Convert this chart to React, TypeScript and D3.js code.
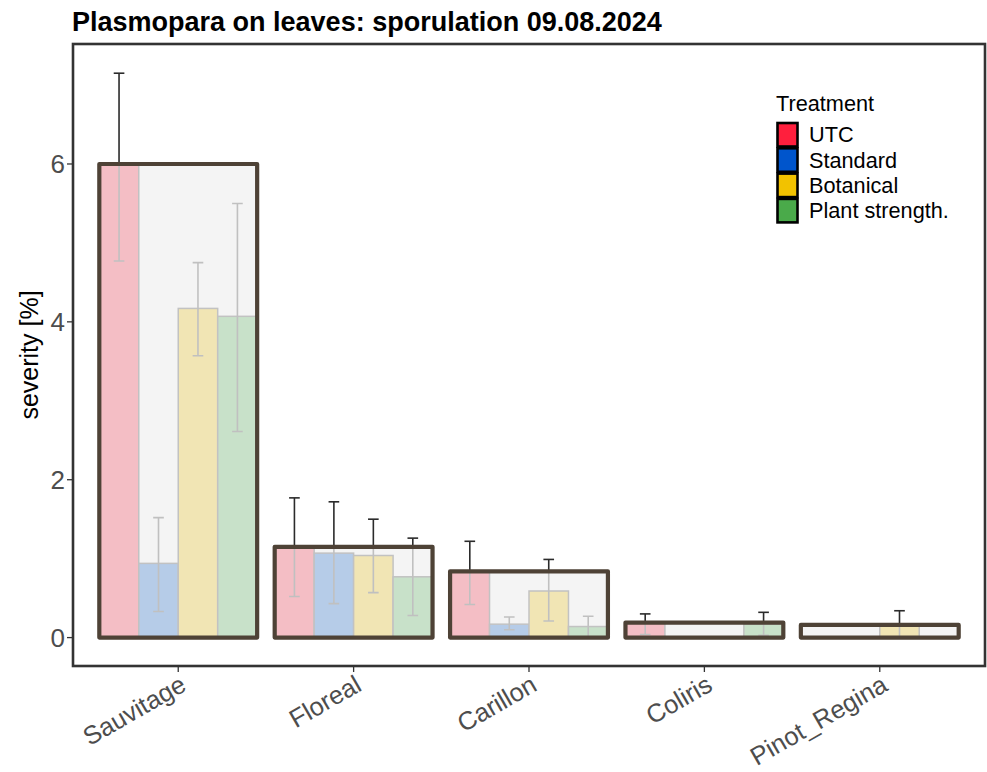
import React from "react";
import * as d3 from "d3";

const varieties = ["Sauvitage", "Floreal", "Carillon", "Coliris", "Pinot_Regina"];
const treatments = ["UTC", "Standard", "Botanical", "Plant strength."];

// means per variety, in treatment order
const meanUTC = [6.0, 1.15, 0.84, 0.19, 0];
const meanStandard = [0.94, 1.07, 0.17, 0, 0];
const meanBotanical = [4.17, 1.04, 0.59, 0, 0.16];
const meanPlant = [4.07, 0.77, 0.14, 0.17, 0];

const lowUTC = [4.77, 0.52, 0.42, 0.04, 0];
const highUTC = [7.15, 1.77, 1.22, 0.3, 0];
const lowStandard = [0.33, 0.43, 0.1, 0, 0];
const highStandard = [1.52, 1.72, 0.26, 0, 0];
const lowBotanical = [3.57, 0.57, 0.21, 0, 0.0];
const highBotanical = [4.75, 1.5, 0.99, 0, 0.34];
const lowPlant = [2.61, 0.28, 0.0, 0.03, 0];
const highPlant = [5.5, 1.26, 0.27, 0.32, 0];

const yTicks = [0, 2, 4, 6];

const paleColors = ["#f4bec5", "#b6cce8", "#f1e5b4", "#c8e1c9"];
const keyColors = ["#ff1f3d", "#0055cc", "#f2c200", "#4aaa4a"];

const W = 987;
const H = 772;
const panel = { left: 73, right: 985, top: 44, bottom: 666 };

export default function App() {
  const x = d3
    .scaleBand<string>()
    .domain(varieties)
    .range([panel.left, panel.right])
    .paddingInner(0.1)
    .paddingOuter(0.15);
  const sub = d3.scaleBand<string>().domain(treatments).range([0, x.bandwidth()]);
  const y = d3.scaleLinear().domain([-0.36, 7.52]).range([panel.bottom, panel.top]);

  const means = [meanUTC, meanStandard, meanBotanical, meanPlant];
  const lows = [lowUTC, lowStandard, lowBotanical, lowPlant];
  const highs = [highUTC, highStandard, highBotanical, highPlant];

  const capW = sub.bandwidth() * 0.27;
  const font = "'Liberation Sans', Arial, sans-serif";

  return (
    <svg
      width={W}
      height={H}
      style={{ position: "absolute", left: 0, top: 0, background: "#fff" }}
      fontFamily={font}
    >
      <defs>
        {varieties.map((v, i) => {
          const boxMax = d3.max(means, (m) => m[i]) as number;
          return (
            <clipPath id={`clip${i}`} key={v}>
              <rect
                x={x(v)}
                y={y(boxMax)}
                width={x.bandwidth()}
                height={y(0) - y(boxMax)}
              />
            </clipPath>
          );
        })}
      </defs>
      <rect x={0} y={0} width={W} height={H} fill="#fff" />
      <text x={72} y={31} fontSize={27} fontWeight="bold" fill="#000">
        Plasmopara on leaves: sporulation 09.08.2024
      </text>

      {/* black error bars (underneath) */}
      {varieties.map((v, i) =>
        treatments.map((t, j) => {
          if (highs[j][i] <= 0) return null;
          const cx = (x(v) as number) + (sub(t) as number) + sub.bandwidth() / 2;
          return (
            <g key={`eb${i}${j}`} stroke="#2b2b2b" strokeWidth={1.6}>
              <line x1={cx} x2={cx} y1={y(lows[j][i])} y2={y(highs[j][i])} />
              <line x1={cx - capW / 2} x2={cx + capW / 2} y1={y(highs[j][i])} y2={y(highs[j][i])} />
              <line x1={cx - capW / 2} x2={cx + capW / 2} y1={y(lows[j][i])} y2={y(lows[j][i])} />
            </g>
          );
        })
      )}

      {varieties.map((v, i) => {
        const boxMax = d3.max(means, (m) => m[i]) as number;
        const bx = x(v) as number;
        return (
          <g key={v}>
            <rect
              x={bx}
              y={y(boxMax)}
              width={x.bandwidth()}
              height={y(0) - y(boxMax)}
              fill="#f4f4f4"
            />
            {treatments.map((t, j) => {
              const val = means[j][i];
              if (val <= 0) return null;
              return (
                <rect
                  key={t}
                  x={bx + (sub(t) as number)}
                  y={y(val)}
                  width={sub.bandwidth()}
                  height={y(0) - y(val)}
                  fill={paleColors[j]}
                  stroke="#c2c2c2"
                  strokeWidth={1.5}
                />
              );
            })}
            <g clipPath={`url(#clip${i})`} stroke="#c0c0c0" strokeWidth={1.6}>
              {treatments.map((t, j) => {
                if (highs[j][i] <= 0) return null;
                const cx = bx + (sub(t) as number) + sub.bandwidth() / 2;
                return (
                  <g key={t}>
                    <line x1={cx} x2={cx} y1={y(lows[j][i])} y2={y(highs[j][i])} />
                    <line x1={cx - capW / 2} x2={cx + capW / 2} y1={y(highs[j][i])} y2={y(highs[j][i])} />
                    <line x1={cx - capW / 2} x2={cx + capW / 2} y1={y(lows[j][i])} y2={y(lows[j][i])} />
                  </g>
                );
              })}
            </g>
            <rect
              x={bx}
              y={y(boxMax)}
              width={x.bandwidth()}
              height={y(0) - y(boxMax)}
              fill="none"
              stroke="#4e4236"
              strokeWidth={4.2}
              strokeLinejoin="round"
            />
          </g>
        );
      })}

      {/* panel border */}
      <rect
        x={panel.left}
        y={panel.top}
        width={panel.right - panel.left}
        height={panel.bottom - panel.top}
        fill="none"
        stroke="#333"
        strokeWidth={2.6}
      />

      {/* y axis */}
      {yTicks.map((t) => (
        <g key={t}>
          <line x1={panel.left - 6} x2={panel.left} y1={y(t)} y2={y(t)} stroke="#333" strokeWidth={1.3} />
          <text
            x={panel.left - 8}
            y={y(t)}
            dy="0.36em"
            textAnchor="end"
            fontSize={26}
            fill="#4d4d4d"
          >
            {t}
          </text>
        </g>
      ))}
      <text
        transform={`translate(38,${(panel.top + panel.bottom) / 2}) rotate(-90)`}
        textAnchor="middle"
        fontSize={25}
        fill="#000"
      >
        severity [%]
      </text>

      {/* x axis */}
      {varieties.map((v) => {
        const cx = (x(v) as number) + x.bandwidth() / 2;
        return (
          <g key={v}>
            <line x1={cx} x2={cx} y1={panel.bottom} y2={panel.bottom + 6} stroke="#333" strokeWidth={1.3} />
            <text
              transform={`translate(${cx},${panel.bottom + 7}) rotate(-30)`}
              textAnchor="end"
              dy="0.75em"
              fontSize={25.5}
              fill="#4d4d4d"
            >
              {v}
            </text>
          </g>
        );
      })}

      {/* legend */}
      <text x={776} y={111} fontSize={21.7} fill="#000">
        Treatment
      </text>
      {treatments.map((t, j) => (
        <g key={t}>
          <rect
            x={777.5}
            y={123 + j * 25.3}
            width={20}
            height={23.5}
            fill={keyColors[j]}
            stroke="#000"
            strokeWidth={2.6}
          />
          <text x={809} y={134.5 + j * 25.3} dy="0.36em" fontSize={21.7} fill="#000">
            {t}
          </text>
        </g>
      ))}
    </svg>
  );
}
